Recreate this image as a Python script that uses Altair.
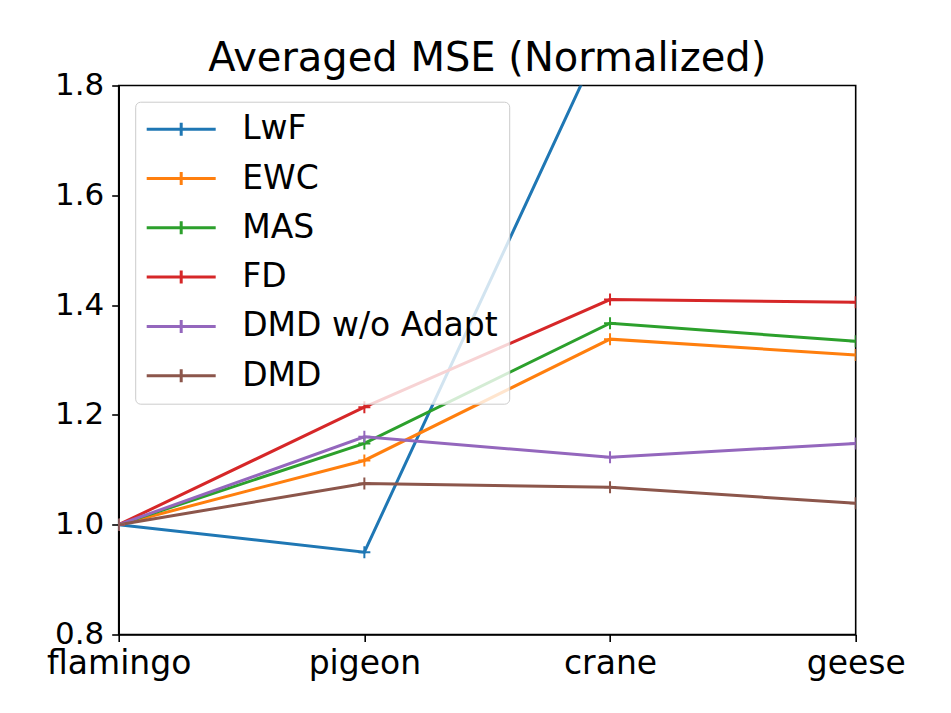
import altair as alt
import pandas as pd

categories = ["flamingo", "pigeon", "crane", "geese"]
series_names = ["LwF", "EWC", "MAS", "FD", "DMD w/o Adapt", "DMD"]
lwf = [1.0, 0.950, 1.915, 2.10]
ewc = [1.0, 1.117, 1.338, 1.309]
mas = [1.0, 1.148, 1.367, 1.334]
fd = [1.0, 1.214, 1.410, 1.405]
dmd_wo = [1.0, 1.160, 1.123, 1.148]
dmd = [1.0, 1.075, 1.068, 1.039]
colors = ["#1f77b4", "#ff7f0e", "#2ca02c", "#d62728", "#9467bd", "#8c564b"]
y_ticks = [0.8, 1.0, 1.2, 1.4, 1.6, 1.8]

rows = []
for name, vals in zip(series_names, [lwf, ewc, mas, fd, dmd_wo, dmd]):
    for i, (c, v) in enumerate(zip(categories, vals)):
        rows.append({"bird": c, "order": i, "method": name, "mse": v})
df = pd.DataFrame(rows)

FONT = "DejaVu Sans"

x_enc = alt.X("bird:N", sort=categories,
              scale=alt.Scale(type="point", padding=0),
              axis=alt.Axis(title=None, labelAngle=0, labelOverlap=False,
                            labelFlush=False, labelFontSize=33, labelFont=FONT,
                            labelColor="black", labelPadding=6, tickSize=7,
                            tickWidth=1.6, tickColor="black", domainColor="black",
                            domainWidth=1.6, grid=False))
y_enc = alt.Y("mse:Q", scale=alt.Scale(domain=[0.8, 1.8], nice=False, zero=False),
              axis=alt.Axis(title=None, values=y_ticks, format=".1f",
                            labelFontSize=31, labelFont=FONT, labelColor="black",
                            labelPadding=8, tickSize=7, tickWidth=1.6,
                            tickColor="black", domainColor="black", domainWidth=1.6,
                            grid=False, labelFlush=False))
color_enc = alt.Color("method:N", sort=series_names,
                      scale=alt.Scale(domain=series_names, range=colors),
                      legend=alt.Legend(title=None, orient="none", legendX=16.5,
                                        legendY=16.2, labelFontSize=33,
                                        labelFont=FONT, labelColor="black",
                                        labelLimit=500, labelOffset=63,
                                        symbolType="M-1.28,0L4.24,0M1.48,-0.52L1.48,0.52",
                                        symbolSize=625, symbolStrokeWidth=3,
                                        symbolFillColor="transparent",
                                        rowPadding=15.3, padding=11,
                                        fillColor="rgba(255,255,255,0.8)",
                                        strokeColor="#cccccc", cornerRadius=5))

lines = alt.Chart(df).mark_line(strokeWidth=3, clip=True).encode(
    x=x_enc, y=y_enc, color=color_enc, order="order:Q", detail="method:N")
points = alt.Chart(df).mark_point(shape="M-1,0L1,0M0,-1L0,1", size=144,
                                  filled=False, strokeWidth=2, opacity=1,
                                  clip=True).encode(
    x=x_enc, y=y_enc, color=color_enc)

chart = alt.layer(lines, points).properties(
    width=737, height=549,
    title=alt.TitleParams("Averaged MSE (Normalized)", fontSize=40, font=FONT,
                          fontWeight="normal", color="black", anchor="middle",
                          frame="group", baseline="bottom", offset=4, dy=53),
    padding={"left": 110.7, "top": 77.5, "right": 80, "bottom": 60},
    autosize=alt.AutoSizeParams(type="none"),
).configure(background="white").configure_view(stroke="black", strokeWidth=1.6)

chart.save("out.html", embed_options={"renderer": "svg", "actions": False})
